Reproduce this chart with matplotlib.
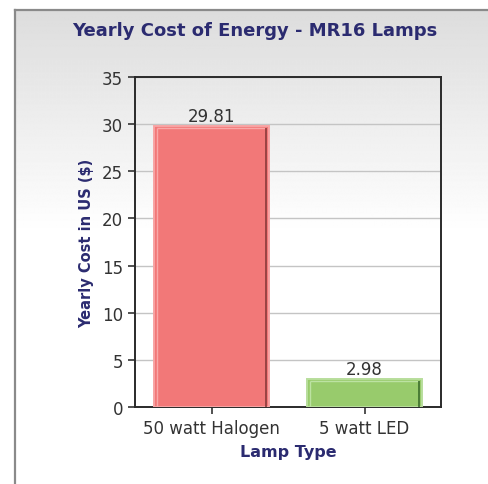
#!/usr/bin/env python3
"""
Yearly cost of energy for MR16 lamps - bar chart.
"""
import numpy as np
import matplotlib
matplotlib.use("Agg")
import matplotlib.pyplot as plt

# chart data
lamp_types = ["50 watt Halogen", "5 watt LED"]
yearly_cost = [29.81, 2.98]
value_labels = ["29.81", "2.98"]
y_ticks = [0, 5, 10, 15, 20, 25, 30, 35]

fill_colors = ["#f27878", "#98cb6c"]
edge_colors = ["#f8a4a4", "#b8de9c"]
light_colors = ["#f9a8a8", "#bce2a2"]
shadow_colors = ["#8a3a3a", "#3c6e2c"]

NAVY = "#2b2b70"
TEXT = "#333333"

plt.rcParams["font.family"] = ["DejaVu Sans"]


def draw_background(fig):
    """Gradient panel with a grey border, like the original web widget"""
    bg = fig.add_axes([0, 0, 1, 1], zorder=-10)
    bg.set_xlim(0, 488)
    bg.set_ylim(485, 0)
    bg.axis("off")
    # vertical gradient: light grey at top to white around y=235
    ys = np.linspace(0, 1, 256)
    shade = np.clip(0.865 + (1 - 0.865) * ys, 0, 1)
    img = np.repeat(shade[:, None], 2, axis=1)
    bg.imshow(img, cmap="gray", vmin=0, vmax=1, aspect="auto",
              extent=(15, 488, 235, 11), interpolation="bilinear")
    bg.add_patch(plt.Rectangle((15, 235), 473, 250, color="white", lw=0))
    bg.plot([15, 15], [485, 11], color="#8a8a8a", lw=1.6)
    bg.plot([15, 488], [11, 11], color="#8a8a8a", lw=1.6)


def main():
    fig = plt.figure(figsize=(4.88, 4.85), dpi=100)
    draw_background(fig)

    ax = fig.add_axes([135 / 488, 1 - 408 / 485, 306 / 488, 330 / 485])
    ax.set_facecolor("none")

    x = np.arange(len(lamp_types))
    width = 0.75
    ax.bar(x, yearly_cost, width=width, color=fill_colors,
           edgecolor=edge_colors, linewidth=1.4, zorder=3)

    # bevel effect: light inner line on left/top, dark on the right
    dx = 0.02
    dy = 0.26
    for xi, val, lc, sc in zip(x, yearly_cost, light_colors, shadow_colors):
        left = xi - width / 2 + dx
        right = xi + width / 2 - dx
        ax.vlines(left, 0, val - dy, color=lc, lw=1.0, zorder=4)
        ax.hlines(val - dy, left, right, color=lc, lw=1.0, zorder=4)
        ax.vlines(right, 0, val - dy, color=sc, lw=1.4, alpha=0.85, zorder=4)

    for xi, val, lbl in zip(x, yearly_cost, value_labels):
        ax.text(xi, val + 0.12, lbl, ha="center", va="bottom",
                fontsize=12, color=TEXT, zorder=5)

    ax.set_xlim(-0.5, 1.5)
    ax.set_ylim(0, 35)
    ax.set_yticks(y_ticks)
    ax.set_xticks(x)
    ax.set_xticklabels(lamp_types)
    ax.tick_params(axis="both", labelsize=12, labelcolor=TEXT, color="#333333",
                   length=5, width=1.2, direction="out")
    ax.yaxis.grid(True, color="#c4c4c4", lw=1.0, zorder=0)
    ax.set_axisbelow(True)
    for s in ax.spines.values():
        s.set_color("#2a2a2a")
        s.set_linewidth(1.4)

    ax.set_xlabel("Lamp Type", fontsize=11.5, fontweight="bold", color=NAVY,
                  labelpad=5)
    ax.set_ylabel("Yearly Cost in US ($)", fontsize=10.5, fontweight="bold",
                  color=NAVY, labelpad=6)

    fig.text(0.523, 1 - 31 / 485, "Yearly Cost of Energy - MR16 Lamps",
             ha="center", va="center", fontsize=13, fontweight="bold", color=NAVY)

    fig.savefig("out.png", dpi=100)
    plt.close(fig)


if __name__ == "__main__":
    main()
